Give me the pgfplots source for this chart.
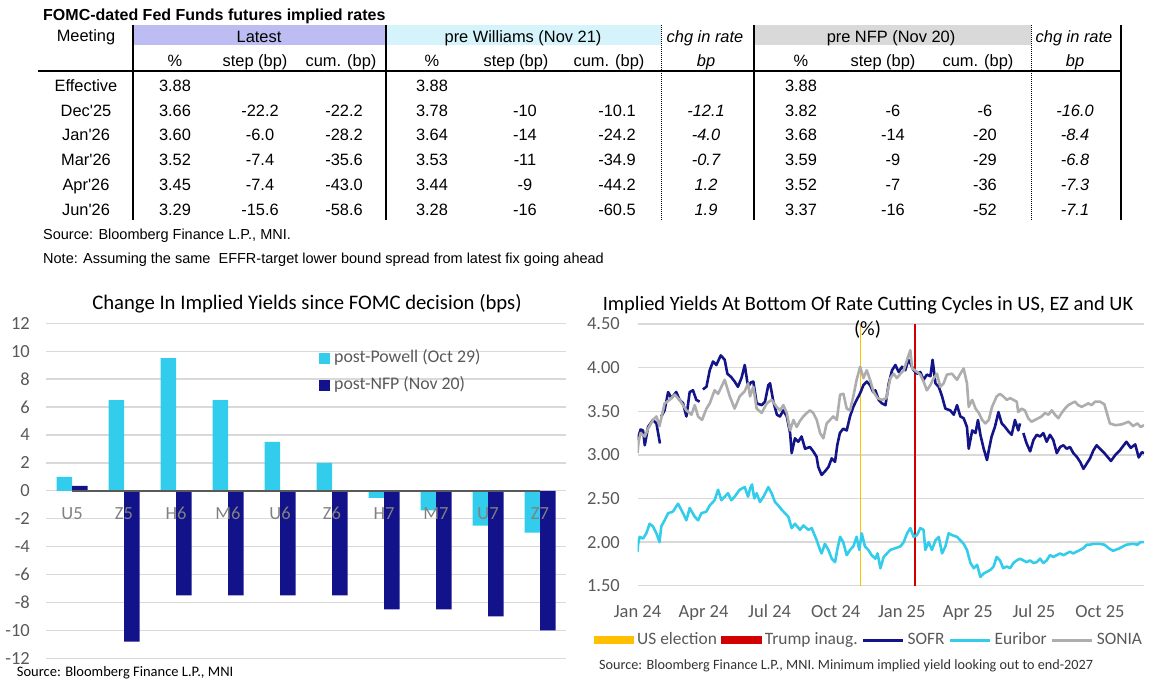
\documentclass[border=0pt]{standalone}
\usepackage{fontspec}
\setmainfont{Liberation Sans}
\newfontfamily\cf{Carlito}
\usepackage{pgfplots}
\pgfplotsset{compat=1.18}

\definecolor{lav}{HTML}{BDBDF3}
\definecolor{paleblue}{HTML}{D5F3FA}
\definecolor{hdrgrey}{HTML}{D9D9D9}
\definecolor{cyanbar}{HTML}{32CCEC}
\definecolor{navybar}{HTML}{12128A}
\definecolor{gridgrey}{HTML}{D9D9D9}
\definecolor{tickgrey}{HTML}{595959}
\definecolor{catgrey}{HTML}{808080}
\definecolor{sofr}{HTML}{141489}
\definecolor{euribor}{HTML}{33CCEB}
\definecolor{sonia}{HTML}{ADADAD}
\definecolor{elec}{HTML}{FFC000}
\definecolor{inaug}{RGB}{210,0,0}

\newcommand\tfont{\fontsize{16.4}{19}\selectfont}
\newcommand\cfont{\cf\fontsize{18.5}{20}\selectfont}
\newcommand\lfont{\cf\fontsize{17.4}{20}\selectfont}
% table cell: x centre, baseline (px from top), text
\newcommand\tb[3]{\node[anchor=base,inner sep=0pt,font=\tfont] at (#1,{682-#2}) {#3};}
\newcommand\ti[3]{\node[anchor=base,inner sep=0pt,font=\tfont\itshape] at (#1,{682-#2}) {#3};}

\begin{document}
\begin{tikzpicture}[x=1pt,y=1pt]
\useasboundingbox (0,0) rectangle (1154,682);

%% ---------- table ----------
\node[anchor=base west,inner sep=0pt,font=\bfseries\fontsize{16}{19}\selectfont] at (43,{682-20.7}) {FOMC-dated Fed Funds futures implied rates};
\fill[lav] (133,637) rectangle (386,657);
\fill[paleblue] (386,637) rectangle (661,657);
\fill[hdrgrey] (754,637) rectangle (1031,657);
\foreach \x in {133,386,754,1121} \draw[line width=1.3pt] (\x,657) -- (\x,462);
\foreach \x in {661,1031} \draw[line width=1pt,densely dotted] (\x,657) -- (\x,462);
\draw[line width=2.5pt] (38,611) -- (1121,611);

\tb{86}{41.7}{Meeting}
\tb{259}{42.7}{Latest}
\tb{523}{42.7}{pre Williams (Nov 21)}
\ti{705}{42.7}{chg in rate}
\tb{891}{42.7}{pre NFP (Nov 20)}
\ti{1074}{42.7}{chg in rate}
\foreach \x/\t in {175/\%,255/step (bp),341/cum. (bp),432/\%,516/step (bp),609/cum. (bp),801/\%,883/step (bp),978/cum. (bp)} {\tb{\x}{66.7}{\t}}
\ti{706}{66.7}{bp}
\ti{1075}{66.7}{bp}

\foreach \x/\t in {86/Effective,175/3.88,432/3.88,801/3.88} {\tb{\x}{91.5}{\t}}
\tb{86}{116.3}{Dec\textquotesingle25}
\foreach \x/\t in {175/3.66,260/-22.2,344/-22.2,432/3.78,525/-10,617/-10.1,801/3.82,893/-6,985/-6} {\tb{\x}{116.3}{\t}}
\ti{706}{116.3}{-12.1}\ti{1075}{116.3}{-16.0}
\tb{86}{141}{Jan\textquotesingle26}
\foreach \x/\t in {175/3.60,260/-6.0,344/-28.2,432/3.64,525/-14,617/-24.2,801/3.68,893/-14,985/-20} {\tb{\x}{141}{\t}}
\ti{706}{141}{-4.0}\ti{1075}{141}{-8.4}
\tb{86}{165.8}{Mar\textquotesingle26}
\foreach \x/\t in {175/3.52,260/-7.4,344/-35.6,432/3.53,525/-11,617/-34.9,801/3.59,893/-9,985/-29} {\tb{\x}{165.8}{\t}}
\ti{706}{165.8}{-0.7}\ti{1075}{165.8}{-6.8}
\tb{86}{190.6}{Apr\textquotesingle26}
\foreach \x/\t in {175/3.45,260/-7.4,344/-43.0,432/3.44,525/-9,617/-44.2,801/3.52,893/-7,985/-36} {\tb{\x}{190.6}{\t}}
\ti{706}{190.6}{1.2}\ti{1075}{190.6}{-7.3}
\tb{86}{215.4}{Jun\textquotesingle26}
\foreach \x/\t in {175/3.29,260/-15.6,344/-58.6,432/3.28,525/-16,617/-60.5,801/3.37,893/-16,985/-52} {\tb{\x}{215.4}{\t}}
\ti{706}{215.4}{1.9}\ti{1075}{215.4}{-7.1}

\node[anchor=base west,inner sep=0pt,font=\fontsize{14.5}{17}\selectfont] at (43,{682-239.3}) {Source: Bloomberg Finance L.P., MNI.};
\node[anchor=base west,inner sep=0pt,font=\fontsize{14.5}{17}\selectfont] at (43,{682-264}) {Note: Assuming the same \ EFFR-target lower bound spread from latest fix going ahead};

%% ---------- bar chart ----------
\node[anchor=base,inner sep=0pt,font=\cf\fontsize{20.7}{23}\selectfont] at (307,{682-309.3}) {Change In Implied Yields since FOMC decision (bps)};
\begin{axis}[
    at={(46pt,23.7pt)}, anchor=south west,
    scale only axis, width=520pt, height=335pt,
    ybar=0pt, bar width=15.5pt,
    xmin=-0.5, xmax=9.5, ymin=-12, ymax=12,
    xtick=\empty, ytick={-12,-10,...,12},
    axis line style={draw=none}, major tick length=0pt,
    ymajorgrids, major grid style={draw=gridgrey, line width=1.4pt},
    /pgf/number format/assume math mode=true,
    yticklabel style={font=\cfont, text=tickgrey, inner sep=0pt, anchor=east, xshift=-16pt},
    legend cell align=left,
    legend style={at={(0.525,0.922)}, anchor=north west, draw=none, fill=none,
        inner sep=0pt, font=\cf\fontsize{17.8}{20}\selectfont, row sep=10pt,
        nodes={inner sep=0pt, text height=13pt, text depth=4pt, text=tickgrey},
        /tikz/every odd column/.append style={column sep=4pt}},
]
\addplot[fill=cyanbar, draw=none,
    legend image code/.code={\fill[cyanbar] (0pt,-5.5pt) rectangle (11pt,5.5pt);}]
    coordinates {(0,1.0) (1,6.5) (2,9.5) (3,6.5) (4,3.5) (5,2.0) (6,-0.5) (7,-1.4) (8,-2.5) (9,-3.0)};
\addplot[fill=navybar, draw=none,
    legend image code/.code={\fill[navybar] (0pt,-5.5pt) rectangle (11pt,5.5pt);}]
    coordinates {(0,0.35) (1,-10.8) (2,-7.5) (3,-7.5) (4,-7.5) (5,-7.5) (6,-8.5) (7,-8.5) (8,-9.0) (9,-10.0)};
\legend{post-Powell (Oct 29), post-NFP (Nov 20)}
\addplot[sharp plot, draw=tickgrey, line width=2pt, forget plot, update limits=false]
    coordinates {(0,0) (9,0)};
\node[anchor=base,inner sep=0pt,font=\cfont,text=catgrey] at (axis cs:0,-2.09) {U5};
\node[anchor=base,inner sep=0pt,font=\cfont,text=catgrey] at (axis cs:1,-2.09) {Z5};
\node[anchor=base,inner sep=0pt,font=\cfont,text=catgrey] at (axis cs:2,-2.09) {H6};
\node[anchor=base,inner sep=0pt,font=\cfont,text=catgrey] at (axis cs:3,-2.09) {M6};
\node[anchor=base,inner sep=0pt,font=\cfont,text=catgrey] at (axis cs:4,-2.09) {U6};
\node[anchor=base,inner sep=0pt,font=\cfont,text=catgrey] at (axis cs:5,-2.09) {Z6};
\node[anchor=base,inner sep=0pt,font=\cfont,text=catgrey] at (axis cs:6,-2.09) {H7};
\node[anchor=base,inner sep=0pt,font=\cfont,text=catgrey] at (axis cs:7,-2.09) {M7};
\node[anchor=base,inner sep=0pt,font=\cfont,text=catgrey] at (axis cs:8,-2.09) {U7};
\node[anchor=base,inner sep=0pt,font=\cfont,text=catgrey] at (axis cs:9,-2.09) {Z7};
\end{axis}
\node[anchor=base west,inner sep=0pt,font=\cf\fontsize{14.5}{16}\selectfont] at (16.7,{682-677}) {Source: Bloomberg Finance L.P., MNI};

%% ---------- line chart ----------
\node[anchor=base,inner sep=0pt,font=\cf\fontsize{20.4}{23}\selectfont] at (868,{682-310.5}) {Implied Yields At Bottom Of Rate Cutting Cycles in US, EZ and UK};
\begin{axis}[
    at={(637.5pt,96.3pt)}, anchor=south west,
    scale only axis, width=506.5pt, height=261.7pt,
    xmin=0, xmax=23, ymin=1.5, ymax=4.5,
    xtick={0,3,...,21},
    xticklabels={Jan 24,Apr 24,Jul 24,Oct 24,Jan 25,Apr 25,Jul 25,Oct 25},
    ytick={1.5,2,...,4.5},
    yticklabel={\pgfmathprintnumber[fixed,fixed zerofill,precision=2]{\tick}},
    axis line style={draw=none}, major tick length=0pt,
    ymajorgrids, major grid style={draw=gridgrey, line width=1.4pt},
    /pgf/number format/assume math mode=true,
    ticklabel style={font=\cfont, text=tickgrey, inner sep=0pt},
    yticklabel style={anchor=east, xshift=-17.5pt},
    xticklabel style={anchor=base, yshift=-31.5pt},
    unbounded coords=jump,
    legend columns=5,
    legend style={at={(-0.0869,-0.175)}, anchor=north west, draw=none, fill=none,
        inner sep=0pt, font=\lfont,
        nodes={inner sep=0pt, text height=13pt, text depth=4pt, text=tickgrey},
        /tikz/every odd column/.append style={column sep=3pt},
        /tikz/every even column/.append style={column sep=4pt}},
]
\addplot[color=elec, line width=1pt,
    legend image code/.code={\fill[elec] (0pt,-3.5pt) rectangle (39.5pt,3.5pt);}]
    coordinates {(10.13,1.5) (10.13,4.5)};
\addplot[color=inaug, line width=1.5pt,
    legend image code/.code={\fill[inaug] (0pt,-3.5pt) rectangle (39.5pt,3.5pt);}]
    coordinates {(12.61,1.5) (12.61,4.5)};
\addplot[color=sofr, line width=2.6pt, line join=round,
    legend image code/.code={\draw[sofr, line width=3pt] (0pt,0pt) -- (40pt,0pt);}]
    coordinates {
    (0.00,3.17) (0.14,3.29) (0.25,3.28) (0.33,3.11) (0.48,3.32) (0.70,3.40) (0.86,3.36) (1.02,3.13)
    (1.05,nan) (1.08,3.44) (1.23,3.51) (1.39,3.72) (1.54,3.65) (1.76,3.72) (1.91,3.63) (2.07,3.59)
    (2.22,3.44) (2.37,3.72) (2.52,3.74) (2.67,3.63) (2.82,3.61) (2.90,nan) (2.97,3.75) (3.13,3.78)
    (3.28,3.97) (3.43,4.07) (3.58,4.03) (3.78,4.14) (3.96,4.09) (4.08,3.93) (4.26,3.89) (4.41,3.84)
    (4.56,3.78) (4.72,3.88) (4.87,4.03) (5.02,3.78) (5.15,3.83) (5.26,3.84) (5.41,3.59) (5.64,3.57)
    (5.79,3.61) (5.94,3.80) (6.02,3.82) (6.17,3.61) (6.33,3.46) (6.47,3.44) (6.62,3.51) (6.78,3.44)
    (6.93,3.25) (7.00,3.02) (7.15,3.19) (7.30,3.15) (7.45,3.21) (7.61,3.07) (7.83,3.09) (7.98,3.04)
    (8.13,2.98) (8.21,2.86) (8.36,2.77) (8.51,2.81) (8.67,2.86) (8.82,2.96) (8.97,2.92) (9.07,3.11)
    (9.19,3.25) (9.34,3.30) (9.50,3.28) (9.65,3.44) (9.80,3.55) (9.95,3.63) (10.10,3.70) (10.26,3.80)
    (10.41,3.84) (10.56,3.80) (10.70,3.72) (10.80,3.74) (10.95,3.63) (11.10,3.59) (11.26,3.57)
    (11.41,3.82) (11.56,3.97) (11.71,4.03) (11.86,3.95) (12.01,4.01) (12.16,3.97) (12.30,4.09)
    (12.39,4.05) (12.54,3.97) (12.69,3.93) (12.84,3.95) (12.99,3.86) (13.14,3.92) (13.30,3.90)
    (13.40,4.09) (13.53,3.82) (13.68,3.78) (13.83,3.67) (13.98,3.53) (14.20,3.51) (14.36,3.46)
    (14.51,3.57) (14.66,3.44) (14.81,3.42) (14.96,3.32) (15.04,3.07) (15.20,3.28) (15.35,3.25)
    (15.46,3.40) (15.57,3.23) (15.72,3.07) (15.87,2.94) (15.95,3.05) (16.08,3.21) (16.23,3.32)
    (16.39,3.49) (16.54,3.36) (16.69,3.32) (16.84,3.27) (16.99,3.23) (17.14,3.40) (17.29,3.28)
    (17.37,3.36) (17.45,nan) (17.52,3.25) (17.67,3.13) (17.83,3.04) (17.98,3.17) (18.13,3.23)
    (18.28,3.21) (18.43,3.25) (18.58,3.15) (18.73,3.23) (18.88,3.17) (19.04,3.02) (19.19,3.09)
    (19.34,3.11) (19.49,3.07) (19.64,3.09) (19.79,3.02) (19.94,2.98) (20.10,2.92) (20.25,2.84)
    (20.40,2.90) (20.55,2.96) (20.70,3.05) (20.85,3.11) (21.00,3.07) (21.20,3.02) (21.50,2.93)
    (21.70,3.00) (21.90,3.05) (22.20,3.15) (22.40,3.08) (22.60,3.12) (22.76,2.97) (22.90,3.03) (23.00,3.02)
    };
\addplot[color=euribor, line width=2.6pt, line join=round,
    legend image code/.code={\draw[euribor, line width=3pt] (0pt,0pt) -- (40pt,0pt);}]
    coordinates {
    (0.00,1.89) (0.03,1.98) (0.10,2.06) (0.25,2.04) (0.40,2.10) (0.55,2.21) (0.70,2.18) (0.86,2.10)
    (1.00,2.00) (1.08,2.18) (1.23,2.25) (1.39,2.33) (1.61,2.35) (1.84,2.44) (2.07,2.33) (2.22,2.25)
    (2.37,2.39) (2.60,2.29) (2.75,2.25) (2.90,2.33) (3.13,2.35) (3.28,2.42) (3.50,2.48) (3.66,2.60)
    (3.81,2.48) (3.96,2.52) (4.11,2.56) (4.26,2.48) (4.41,2.52) (4.64,2.60) (4.87,2.63) (5.02,2.52)
    (5.12,2.62) (5.20,2.66) (5.30,2.50) (5.41,2.56) (5.56,2.46) (5.72,2.52) (5.94,2.63) (6.09,2.56)
    (6.24,2.46) (6.39,2.42) (6.55,2.37) (6.70,2.33) (6.85,2.29) (7.00,2.16) (7.15,2.21) (7.38,2.14)
    (7.53,2.19) (7.76,2.14) (7.91,2.16) (8.14,2.02) (8.29,1.91) (8.36,1.87) (8.51,1.98) (8.67,1.91)
    (8.82,1.81) (8.97,1.77) (9.07,1.91) (9.20,2.06) (9.34,2.00) (9.50,1.85) (9.65,1.91) (9.80,1.95)
    (9.95,2.06) (10.07,1.91) (10.18,2.10) (10.33,1.95) (10.48,1.91) (10.63,1.85) (10.80,1.81)
    (10.90,1.87) (11.03,1.70) (11.18,1.83) (11.33,1.87) (11.48,1.91) (11.71,1.93) (11.94,1.95)
    (12.09,2.00) (12.24,2.10) (12.39,2.16) (12.54,2.06) (12.69,2.08) (12.84,2.16) (12.99,2.14)
    (13.07,1.91) (13.22,2.00) (13.37,1.91) (13.53,2.02) (13.68,2.06) (13.83,1.87) (13.98,1.95)
    (14.13,2.10) (14.28,2.08) (14.51,2.06) (14.66,2.02) (14.81,1.98) (14.96,1.91) (15.12,1.76)
    (15.27,1.70) (15.42,1.74) (15.57,1.60) (15.72,1.64) (15.87,1.66) (16.02,1.68) (16.17,1.72)
    (16.31,1.83) (16.46,1.79) (16.61,1.70) (16.77,1.72) (16.92,1.70) (17.07,1.76) (17.22,1.79)
    (17.37,1.81) (17.52,1.79) (17.67,1.77) (17.83,1.79) (17.98,1.76) (18.13,1.77) (18.28,1.81)
    (18.43,1.76) (18.58,1.79) (18.73,1.85) (18.88,1.83) (19.04,1.85) (19.19,1.87) (19.34,1.85)
    (19.49,1.87) (19.64,1.89) (19.79,1.87) (19.94,1.89) (20.10,1.91) (20.25,1.93) (20.40,1.97)
    (20.55,1.97) (20.70,1.98) (20.85,1.98) (21.00,1.98) (21.20,1.97) (21.45,1.92) (21.60,1.90)
    (21.90,1.93) (22.20,1.97) (22.50,1.98) (22.70,1.97) (22.85,2.00) (23.00,2.00)
    };
\addplot[color=sonia, line width=2.6pt, line join=round,
    legend image code/.code={\draw[sonia, line width=3pt] (0pt,0pt) -- (40pt,0pt);}]
    coordinates {
    (0.00,3.02) (0.05,3.15) (0.14,3.25) (0.33,3.21) (0.48,3.30) (0.70,3.40) (0.86,3.44) (1.00,3.33)
    (1.23,3.59) (1.46,3.63) (1.69,3.69) (1.91,3.63) (2.22,3.51) (2.45,3.46) (2.60,3.57) (2.75,3.44)
    (2.93,3.40) (3.13,3.53) (3.28,3.59) (3.50,3.74) (3.66,3.70) (3.96,3.86) (4.19,3.67) (4.41,3.53)
    (4.64,3.67) (4.87,3.73) (5.02,3.82) (5.11,3.67) (5.26,3.78) (5.41,3.53) (5.64,3.48) (5.87,3.59)
    (6.09,3.63) (6.32,3.55) (6.47,3.51) (6.62,3.57) (6.78,3.48) (6.93,3.28) (7.08,3.40) (7.23,3.32)
    (7.38,3.39) (7.53,3.44) (7.69,3.48) (7.83,3.51) (7.98,3.48) (8.14,3.40) (8.29,3.25) (8.44,3.19)
    (8.59,3.36) (8.74,3.40) (8.89,3.44) (9.05,3.40) (9.20,3.69) (9.35,3.70) (9.50,3.53) (9.65,3.51)
    (9.80,3.67) (9.95,3.86) (10.11,4.01) (10.26,3.88) (10.41,3.97) (10.56,3.86) (10.72,3.72)
    (10.90,3.65) (11.10,3.63) (11.30,3.65) (11.48,3.88) (11.63,3.93) (11.78,3.88) (11.94,3.93)
    (12.09,3.97) (12.24,4.09) (12.39,4.20) (12.47,3.99) (12.60,3.97) (12.84,3.92) (12.99,3.84)
    (13.14,3.74) (13.30,3.80) (13.45,3.88) (13.60,3.93) (13.75,3.78) (13.90,3.82) (14.05,3.92)
    (14.28,3.93) (14.51,3.86) (14.66,3.93) (14.81,3.99) (14.96,3.82) (15.04,3.55) (15.20,3.63)
    (15.35,3.53) (15.50,3.48) (15.65,3.40) (15.80,3.36) (15.95,3.40) (16.10,3.55) (16.31,3.67)
    (16.46,3.70) (16.61,3.67) (16.77,3.63) (16.92,3.65) (17.07,3.63) (17.22,3.61) (17.29,3.49)
    (17.44,3.53) (17.59,3.51) (17.74,3.42) (17.89,3.38) (18.05,3.40) (18.20,3.42) (18.35,3.44)
    (18.50,3.48) (18.66,3.46) (18.81,3.51) (18.96,3.46) (19.11,3.42) (19.26,3.48) (19.41,3.53)
    (19.56,3.57) (19.71,3.59) (19.86,3.61) (20.01,3.57) (20.17,3.55) (20.32,3.57) (20.47,3.59)
    (20.62,3.57) (20.78,3.61) (21.00,3.61) (21.20,3.58) (21.45,3.36) (21.70,3.34) (22.00,3.35)
    (22.30,3.38) (22.50,3.33) (22.70,3.36) (22.85,3.32) (23.00,3.34)
    };
\legend{US election, Trump inaug., SOFR, Euribor, SONIA}
\end{axis}
\node[anchor=base,inner sep=0pt,font=\cf\fontsize{20.4}{23}\selectfont] at (867.5,{682-336}) {(\%)};
\node[anchor=base west,inner sep=0pt,font=\cf\fontsize{14.2}{16}\selectfont,text=black!80] at (599,{682-670}) {Source: Bloomberg Finance L.P., MNI. Minimum implied yield looking out to end-2027};
\end{tikzpicture}
\end{document}
